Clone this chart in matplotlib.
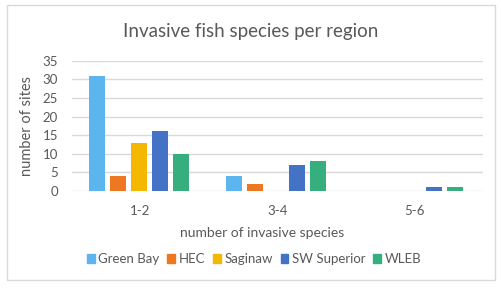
#invasive fish species chart
import numpy as np
import matplotlib.pyplot as plt
from matplotlib.patches import Rectangle, Patch

#data
categories = ['1-2', '3-4', '5-6']
regions = ['Green Bay', 'HEC', 'Saginaw', 'SW Superior', 'WLEB']
green_bay = [31, 4, 0]
hec = [4, 2, 0]
saginaw = [13, 0, 0]
sw_superior = [16, 7, 1]
wleb = [10, 8, 1]
series = [green_bay, hec, saginaw, sw_superior, wleb]
colors = ['#5DB5F0', '#EE7722', '#F5B800', '#4472C4', '#37AE7E']

plt.rcParams['font.family'] = ['Lato', 'DejaVu Sans']
text_grey = '#595959'

fig = plt.figure(figsize=(5.01, 2.88), dpi=100)
ax = fig.add_axes([72/501, (288-191)/288, (483-72)/501, (191-60.7)/288])

#outer chart border
fig.patches.append(Rectangle((7/501, 8/288), 488/501, 275/288, transform=fig.transFigure,
                             fill=False, edgecolor='#D9D9D9', linewidth=1))

x = np.arange(len(categories))
bar_w = 0.117
step = 0.153
for i, (vals, col) in enumerate(zip(series, colors)):
    ax.bar(x + (i - 2) * step - 0.01, vals, width=bar_w, color=col, zorder=3)

ax.set_xlim(-0.5, 2.5)
ax.set_ylim(0, 35)
ax.set_yticks(range(0, 36, 5))
ax.set_xticks(x)
ax.set_xticklabels(categories)
ax.grid(axis='y', color='#D9D9D9', linewidth=1, zorder=0)
for s in ax.spines.values():
    s.set_visible(False)
ax.tick_params(length=0, labelsize=9.5, labelcolor=text_grey)
ax.tick_params(axis='y', pad=10)
ax.tick_params(axis='x', pad=10)

#labels
ax.set_ylabel('number of sites', fontsize=10.5, color=text_grey, labelpad=6)
ax.set_xlabel('number of invasive species', fontsize=10, color=text_grey, va='center')
ax.xaxis.set_label_coords((262 - 72) / 411, -(233 - 191) / 130.3)
fig.text(0.5, 1 - 32/288, 'Invasive fish species per region', ha='center', va='center',
         fontsize=13.5, color=text_grey)

handles = [Patch(color=c) for c in colors]
fig.legend(handles, regions, loc='center', bbox_to_anchor=(254/501, 1 - 259/288), ncol=5,
           frameon=False, fontsize=9.5, labelcolor=text_grey, handlelength=0.6,
           handleheight=0.6, handletextpad=0.25, columnspacing=0.6)

fig.savefig('out.png', dpi=100)
